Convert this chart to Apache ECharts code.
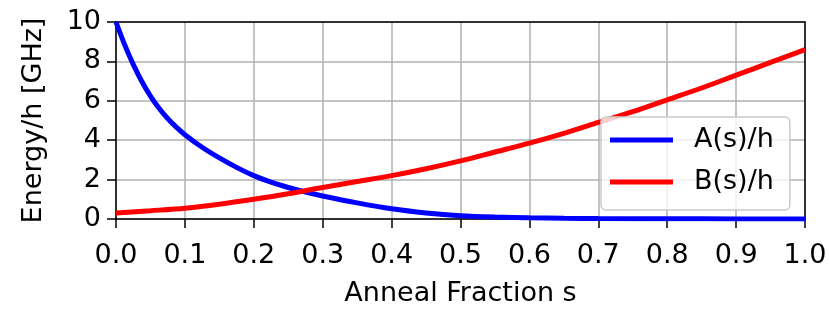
<!DOCTYPE html>
<html>
<head>
<meta charset="utf-8">
<script src="https://cdn.jsdelivr.net/npm/echarts@6/dist/echarts.min.js"></script>
<style>
html,body{margin:0;padding:0;background:#fff;}
#chart{width:830px;height:312px;}
</style>
</head>
<body>
<div id="chart"></div>
<script>
// ---- data ----
const sA = [0, 0.0125, 0.025, 0.0375, 0.05, 0.0625, 0.075, 0.0875, 0.1, 0.125, 0.15, 0.175, 0.2, 0.225, 0.25, 0.275, 0.3, 0.35, 0.4, 0.45, 0.5, 0.55, 0.6, 0.65, 0.7, 0.8, 0.9, 1.0];
const valsA = [10, 8.85, 7.85, 6.98, 6.24, 5.62, 5.1, 4.66, 4.28, 3.64, 3.1, 2.62, 2.2, 1.87, 1.6, 1.37, 1.17, 0.82, 0.52, 0.31, 0.17, 0.1, 0.06, 0.035, 0.02, 0.01, 0.005, 0];
const sB = [0, 0.05, 0.1, 0.15, 0.2, 0.25, 0.3, 0.35, 0.4, 0.45, 0.5, 0.55, 0.6, 0.65, 0.7, 0.75, 0.8, 0.85, 0.9, 0.95, 1.0];
const valsB = [0.3, 0.42, 0.55, 0.75, 1.0, 1.28, 1.6, 1.9, 2.2, 2.55, 2.95, 3.4, 3.85, 4.35, 4.9, 5.45, 6.05, 6.65, 7.3, 7.95, 8.6];
const seriesNames = ['A(s)/h', 'B(s)/h'];
const xTitle = 'Anneal Fraction s';
const yTitle = 'Energy/h [GHz]';

const FONT = 'DejaVu Sans';
const FS = 27;

const chart = echarts.init(document.getElementById('chart'), null, {renderer: 'canvas'});
const zip = (xs, ys) => xs.map((x, i) => [x, ys[i]]);

const option = {
  animation: false,
  backgroundColor: '#fff',
  textStyle: {fontFamily: FONT},
  grid: {left: 116, right: 25, top: 22, bottom: 88, containLabel: false},
  legend: {
    orient: 'vertical',
    left: 601, top: 117,
    padding: [8, 16, 13, 9],
    itemGap: 12,
    itemWidth: 63, itemHeight: 5,
    icon: 'rect',
    backgroundColor: 'rgba(255,255,255,0.8)',
    borderColor: '#cccccc', borderWidth: 1.5, borderRadius: 5,
    textStyle: {fontFamily: FONT, fontSize: FS, color: '#000', lineHeight: 30, padding: [0, 0, 0, 16]},
    data: seriesNames
  },
  xAxis: [{
    type: 'value', min: 0, max: 1, interval: 0.1,
    name: xTitle, nameLocation: 'middle', nameGap: 61,
    nameTextStyle: {fontFamily: FONT, fontSize: FS, color: '#000'},
    axisLine: {show: true, onZero: false, lineStyle: {color: '#000', width: 1.5}},
    axisTick: {show: true, inside: false, length: 9, lineStyle: {color: '#000', width: 1.5}},
    axisLabel: {fontFamily: FONT, fontSize: FS, color: '#000', margin: 23, formatter: v => v.toFixed(1)},
    splitLine: {show: true, lineStyle: {color: '#b0b0b0', width: 1.5}}
  }, {
    type: 'value', min: 0, max: 1, position: 'top',
    axisLine: {show: true, onZero: false, lineStyle: {color: '#000', width: 1.5}},
    axisTick: {show: false}, axisLabel: {show: false}, splitLine: {show: false}
  }],
  yAxis: [{
    type: 'value', min: 0, max: 10, interval: 2,
    name: yTitle, nameLocation: 'middle', nameGap: 69,
    nameTextStyle: {fontFamily: FONT, fontSize: FS, color: '#000'},
    axisLine: {show: true, onZero: false, lineStyle: {color: '#000', width: 1.5}},
    axisTick: {show: true, inside: false, length: 9, lineStyle: {color: '#000', width: 1.5}},
    axisLabel: {fontFamily: FONT, fontSize: FS, color: '#000', margin: 15},
    splitLine: {show: true, lineStyle: {color: '#b0b0b0', width: 1.5}}
  }, {
    type: 'value', min: 0, max: 10, position: 'right',
    axisLine: {show: true, onZero: false, lineStyle: {color: '#000', width: 1.5}},
    axisTick: {show: false}, axisLabel: {show: false}, splitLine: {show: false}
  }],
  series: [{
    name: seriesNames[0], type: 'line', data: zip(sA, valsA),
    showSymbol: false, smooth: 0.3,
    lineStyle: {color: '#0000ff', width: 5}, itemStyle: {color: '#0000ff'}, clip: true
  }, {
    name: seriesNames[1], type: 'line', data: zip(sB, valsB),
    showSymbol: false, smooth: 0.3,
    lineStyle: {color: '#ff0000', width: 5}, itemStyle: {color: '#ff0000'}, clip: true
  }]
};
chart.setOption(option);
</script>
</body>
</html>
